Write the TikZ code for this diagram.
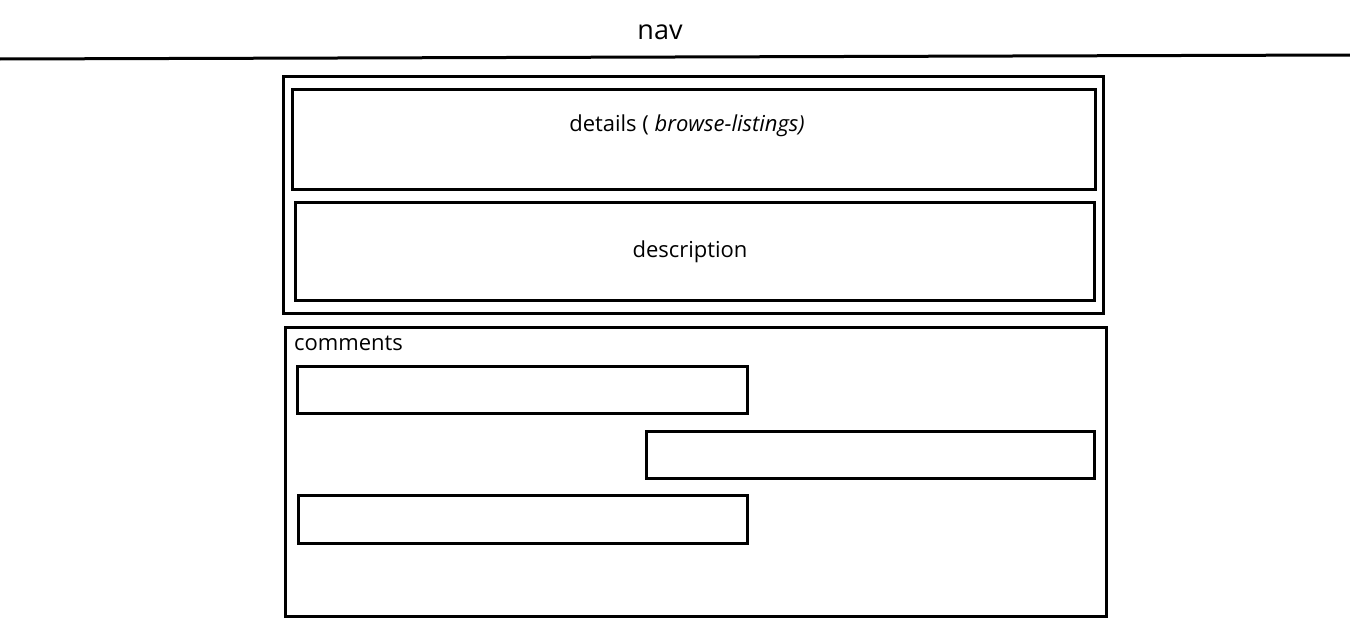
\documentclass[tikz,border=0pt]{standalone}
\usepackage{fontspec}
\setmainfont{Open Sans}
\begin{document}
\begin{tikzpicture}[x=1pt,y=-1pt,
  frame/.style={draw=black,line width=3pt},
  lbl/.style={inner sep=0pt,font=\fontsize{22}{26}\selectfont}]
\useasboundingbox (0,0) rectangle (1350,629);
% navigation bar
\node[lbl,font=\fontsize{27}{31}\selectfont] (nav) at (660,32) {nav};
\coordinate (navL) at (0,59);
\coordinate (navR) at (1350,55);
\draw[line width=3pt] (navL) -- (navR);
% listing panel
\draw[frame] (283,76) rectangle (1103,313);
\draw[frame] (292,89) rectangle (1095,189);
\node[lbl] (details) at (687,126) {details ( \textit{browse-listings)}};
\draw[frame] (295,202) rectangle (1094,300);
\node[lbl] (desc) at (690,252) {description};
% comments panel
\draw[frame] (285,327) rectangle (1106,616);
\node[lbl,anchor=west] (comments) at (294,343) {comments};
\draw[frame] (297,366) rectangle (747,413);
\draw[frame] (646,431) rectangle (1094,478);
\draw[frame] (298,495) rectangle (747,543);
\end{tikzpicture}
\end{document}
